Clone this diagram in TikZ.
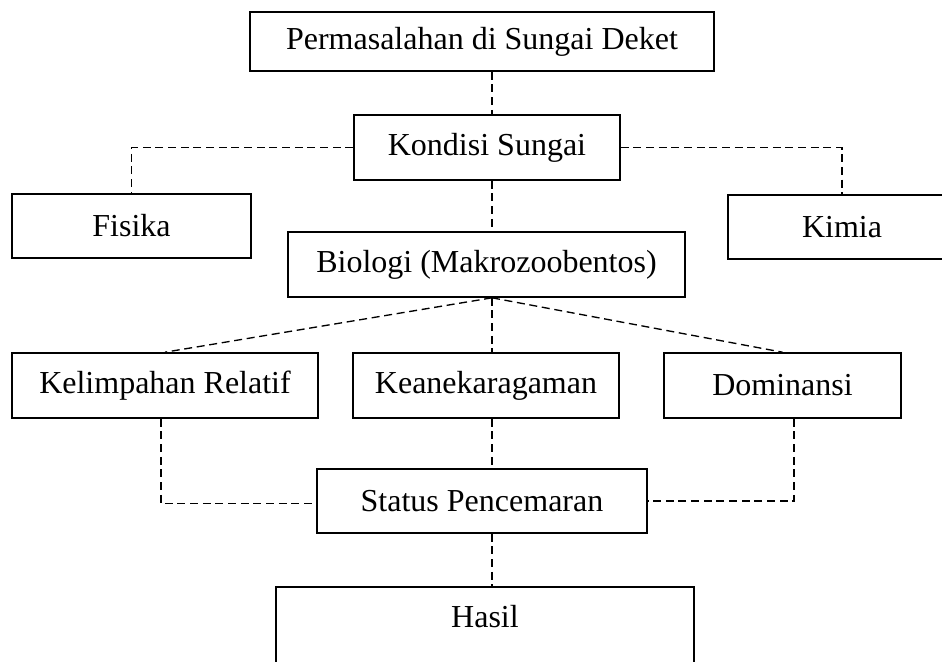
\documentclass[tikz,border=0pt]{standalone}
\usepackage{fontspec}
\setmainfont{Liberation Serif}
\begin{document}
\begin{tikzpicture}[x=0.75pt,y=-0.75pt,
  box/.style={draw, line width=1.2pt, inner sep=0pt, font=\fontsize{24}{28}\selectfont},
  txt/.style={inner sep=0pt, font=\fontsize{24}{28}\selectfont},
  link/.style={line width=1pt, dash pattern=on 6pt off 3.5pt}]
\useasboundingbox (0,0) rectangle (942,661);
\clip (0,0) rectangle (942,661);
\coordinate (v) at (492,0);
\node[box, minimum width=348pt, minimum height=44.25pt] (P) at (482,41.5) {Permasalahan di Sungai Deket};
\node[box, minimum width=199.5pt, minimum height=48.75pt] (K) at (487,147.5) {Kondisi Sungai};
\node[box, minimum width=179.25pt, minimum height=48pt] (F) at (131.5,226) {Fisika};
\node[box, minimum width=171pt, minimum height=48pt] (Ki) at (842,227) {Kimia};
\node[box, minimum width=297.75pt, minimum height=48.75pt] (B) at (486.5,264.5) {Biologi (Makrozoobentos)};
\node[box, minimum width=229.5pt, minimum height=48.75pt] (KR) at (165,385.5) {Kelimpahan Relatif};
\node[box, minimum width=199.5pt, minimum height=48.75pt] (Ke) at (486,385.5) {Keanekaragaman};
\node[box, minimum width=177.75pt, minimum height=48.75pt] (D) at (782.5,385.5) {Dominansi};
\node[box, minimum width=247.5pt, minimum height=48pt] (S) at (482,501) {Status Pencemaran};
\node[box, minimum width=313.5pt, minimum height=112.5pt, anchor=north] (H) at (485,586) {};
\node[txt] (Ht) at (485,617) {Hasil};
\draw[link] (P.south -| v) -- (K.north -| v);
\draw[link] (K.west) -| (F.north);
\draw[link] (K.east) -| (Ki.north);
\draw[link] (K.south -| v) -- (B.north -| v);
\draw[link] (B.south -| v) -- (KR.north);
\draw[link] (B.south -| v) -- (Ke.north -| v);
\draw[link] (B.south -| v) -- (D.north);
\draw[link] ([xshift=-3pt]KR.south) |- ([yshift=-2pt]S.west);
\draw[link] (Ke.south -| v) -- (S.north -| v);
\draw[link] ([xshift=8.6pt]D.south) |- (S.east);
\draw[link] (S.south -| v) -- (H.north -| v);
\end{tikzpicture}
\end{document}
